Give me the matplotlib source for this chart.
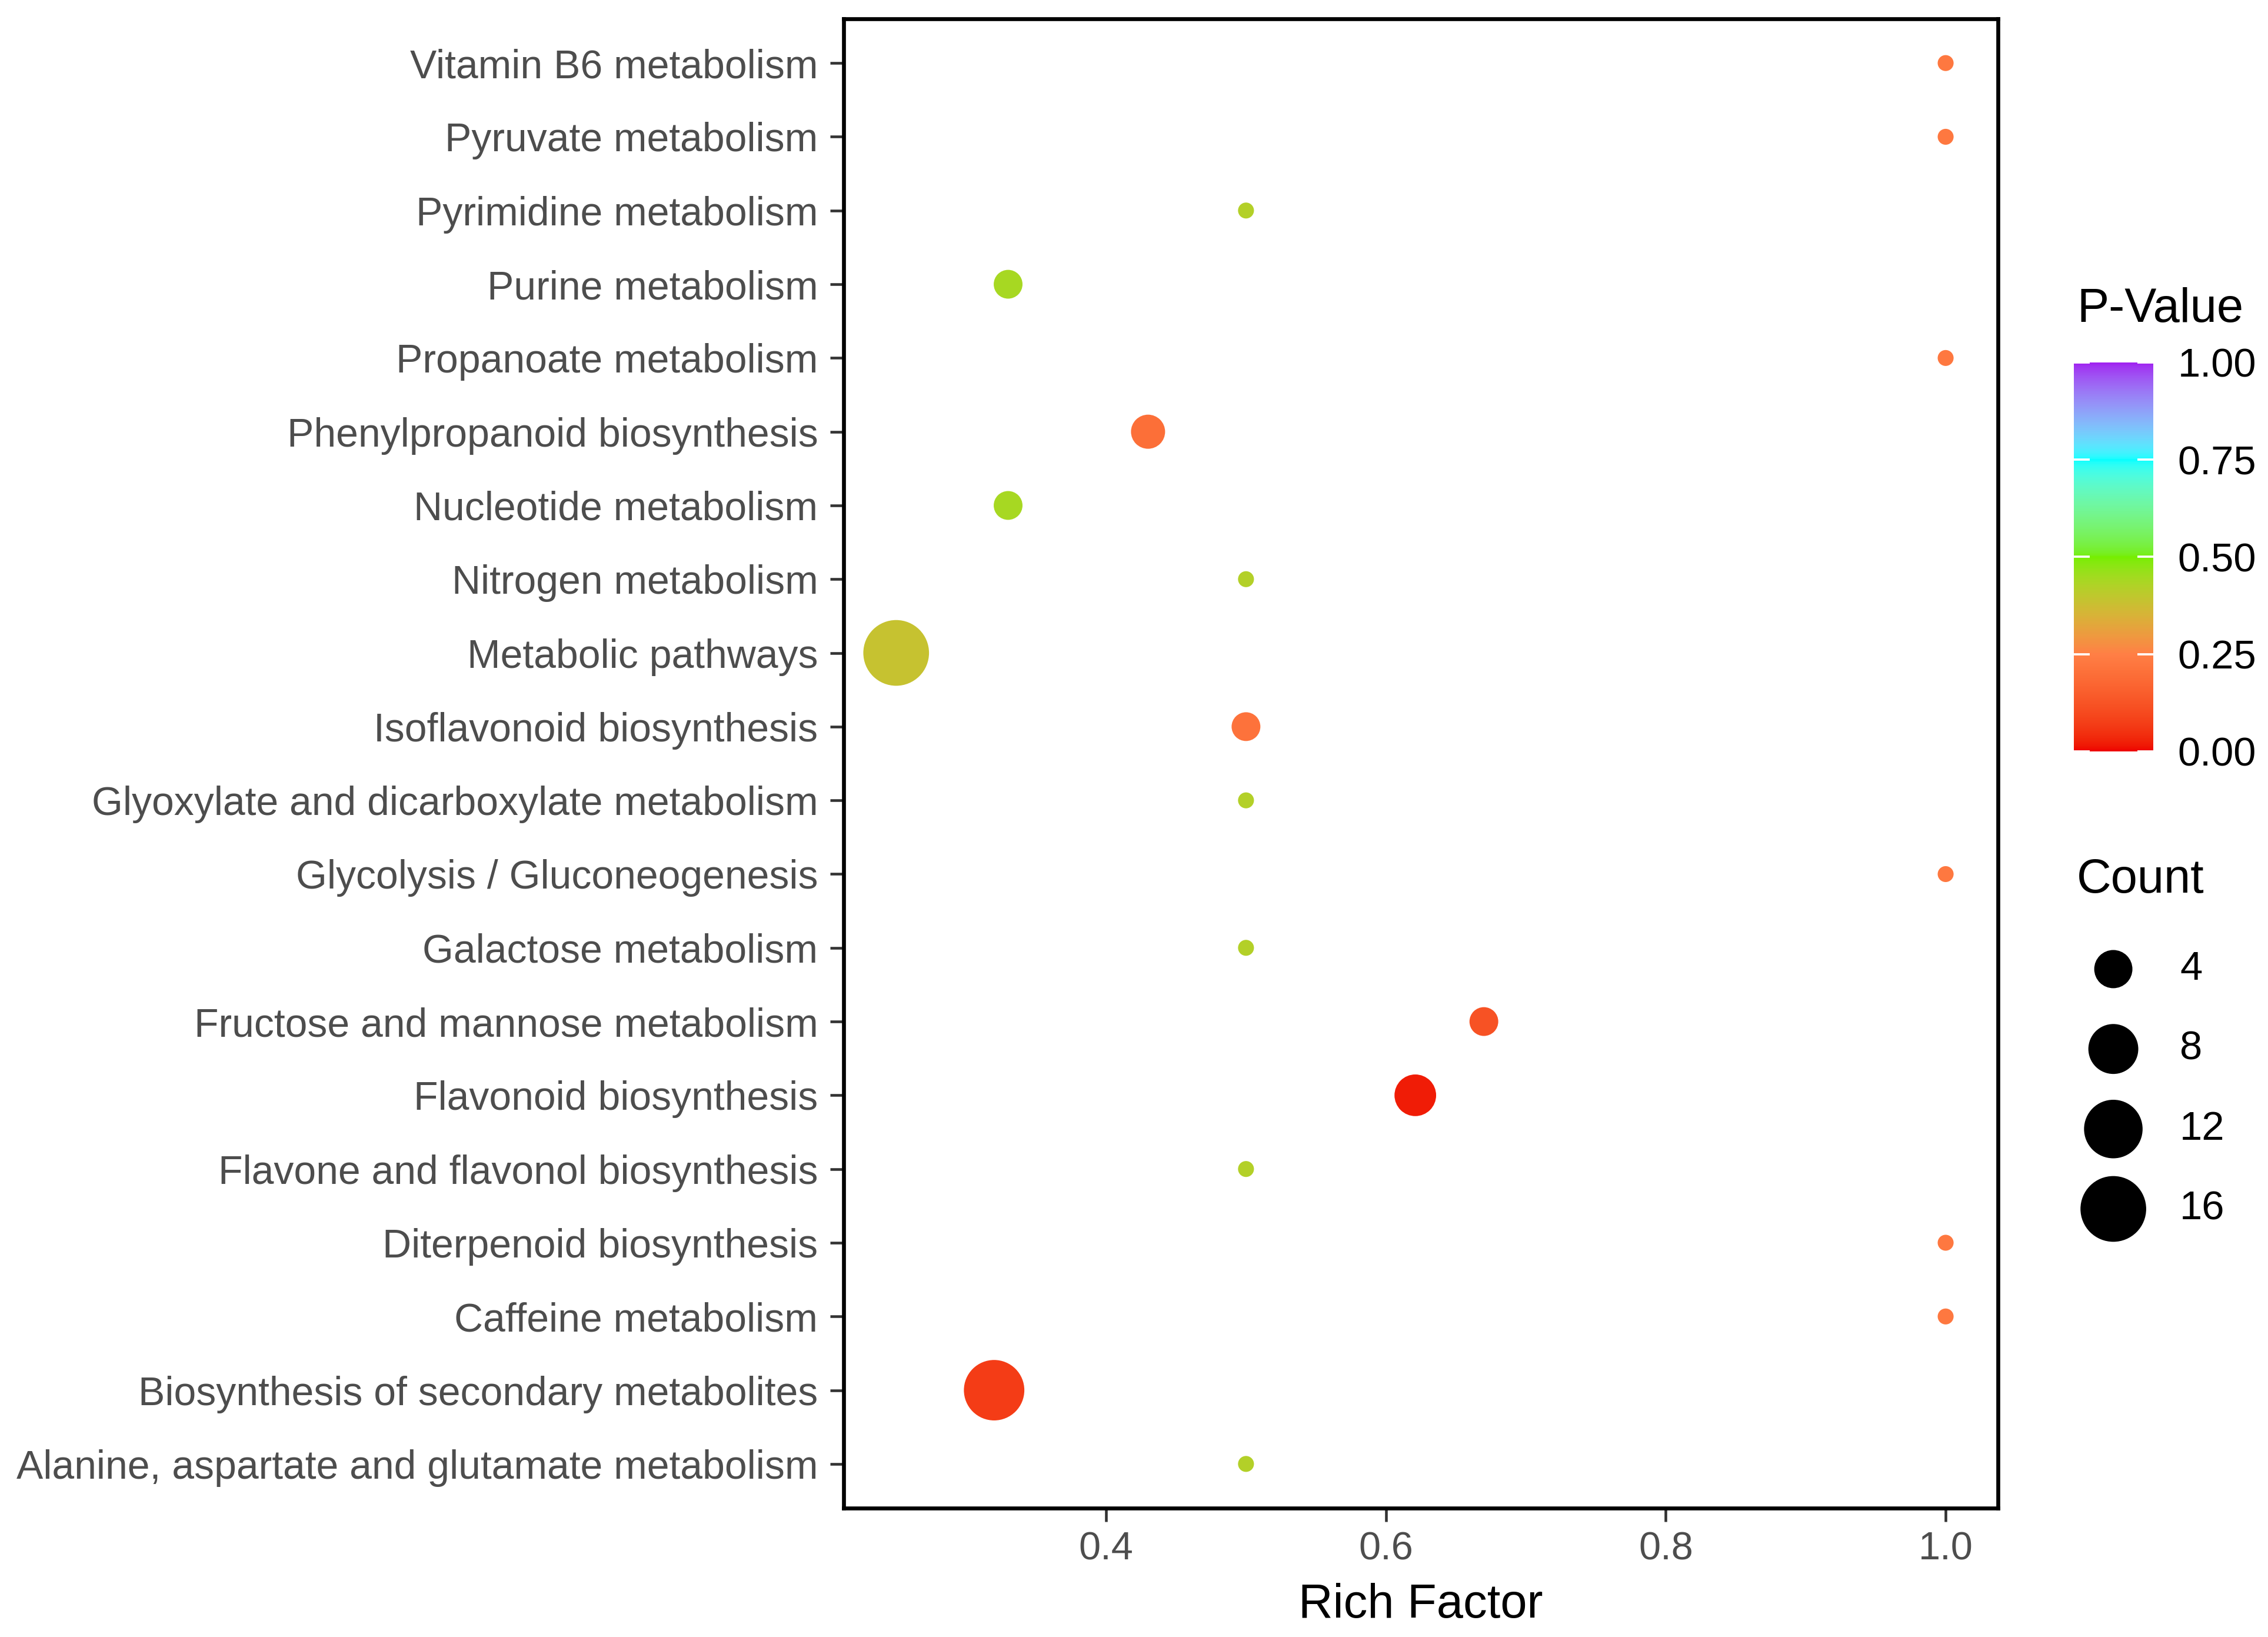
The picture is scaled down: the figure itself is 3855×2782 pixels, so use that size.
#!/usr/bin/env python3
"""
KEGG enrichment bubble plot: rich factor vs pathway, coloured by p-value,
sized by gene count.
"""

import numpy as np
import matplotlib

matplotlib.use('Agg')
import matplotlib.pyplot as plt
from matplotlib.colors import ListedColormap, Normalize, to_rgb

plt.rcParams['font.family'] = ['Liberation Sans', 'DejaVu Sans']

# bottom -> top, as drawn
PATHWAYS = [
    'Alanine, aspartate and glutamate metabolism',
    'Biosynthesis of secondary metabolites',
    'Caffeine metabolism',
    'Diterpenoid biosynthesis',
    'Flavone and flavonol biosynthesis',
    'Flavonoid biosynthesis',
    'Fructose and mannose metabolism',
    'Galactose metabolism',
    'Glycolysis / Gluconeogenesis',
    'Glyoxylate and dicarboxylate metabolism',
    'Isoflavonoid biosynthesis',
    'Metabolic pathways',
    'Nitrogen metabolism',
    'Nucleotide metabolism',
    'Phenylpropanoid biosynthesis',
    'Propanoate metabolism',
    'Purine metabolism',
    'Pyrimidine metabolism',
    'Pyruvate metabolism',
    'Vitamin B6 metabolism',
]
RICH = [0.5, 0.32, 1.0, 1.0, 0.5, 0.621, 0.67, 0.5, 1.0, 0.5,
        0.5, 0.25, 0.5, 0.33, 0.43, 1.0, 0.33, 0.5, 1.0, 1.0]
COUNT = [1, 13, 1, 1, 1, 5, 2, 1, 1, 1,
         2, 16, 1, 2, 3, 1, 2, 1, 1, 1]
PVAL = [0.42, 0.07, 0.23, 0.23, 0.42, 0.02, 0.12, 0.42, 0.23, 0.42,
        0.21, 0.385, 0.42, 0.44, 0.20, 0.23, 0.44, 0.42, 0.23, 0.23]

LEGEND_COUNTS = [4, 8, 12, 16]
CBAR_TICKS = [0.0, 0.25, 0.5, 0.75, 1.0]
GRAD_COLORS = ['#EE0000', '#FF7F45', '#76EE00', '#00FFFF', '#A020F0']

DPI = 300
D_MIN, D_MAX = 6.5, 26.8   # point diameters in pt (area-style size scale)


# --- colour ramp interpolated in CIELAB, like ggplot's gradientn ---
_WHITE = np.array([0.95047, 1.0, 1.08883])
_M = np.array([[0.4124564, 0.3575761, 0.1804375],
               [0.2126729, 0.7151522, 0.0721750],
               [0.0193339, 0.1191920, 0.9503041]])


def rgb2lab(rgb):
    c = np.asarray(rgb, float)
    lin = np.where(c <= 0.04045, c / 12.92, ((c + 0.055) / 1.055) ** 2.4)
    xyz = _M @ lin / _WHITE
    f = np.where(xyz > 0.008856, np.cbrt(xyz), 7.787 * xyz + 16 / 116)
    return np.array([116 * f[1] - 16, 500 * (f[0] - f[1]), 200 * (f[1] - f[2])])


def lab2rgb(lab):
    L, a, b = lab
    fy = (L + 16) / 116
    f = np.array([fy + a / 500, fy, fy - b / 200])
    xyz = np.where(f ** 3 > 0.008856, f ** 3, (f - 16 / 116) / 7.787) * _WHITE
    lin = np.linalg.solve(_M, xyz)
    lin = np.clip(lin, 0, 1)
    c = np.where(lin <= 0.0031308, 12.92 * lin, 1.055 * lin ** (1 / 2.4) - 0.055)
    return np.clip(c, 0, 1)


def lab_ramp(colors, n=512):
    labs = [rgb2lab(to_rgb(c)) for c in colors]
    stops = np.linspace(0, 1, len(colors))
    out = []
    for t in np.linspace(0, 1, n):
        i = min(np.searchsorted(stops, t, side='right') - 1, len(colors) - 2)
        u = (t - stops[i]) / (stops[i + 1] - stops[i])
        out.append(lab2rgb(labs[i] * (1 - u) + labs[i + 1] * u))
    return ListedColormap(out)


def size_of(counts):
    c = np.asarray(counts, float)
    lo, hi = min(COUNT), max(COUNT)
    d = D_MIN + (D_MAX - D_MIN) * np.sqrt((c - lo) / (hi - lo))
    return d ** 2


def main():
    cmap = lab_ramp(GRAD_COLORS)
    norm = Normalize(0, 1)

    fig = plt.figure(figsize=(3855 / DPI, 2782 / DPI), dpi=DPI)
    ax = fig.add_axes([0.3720, 0.0787, 0.5090, 0.9098])

    ax.scatter(RICH, PATHWAYS, s=size_of(COUNT), c=PVAL, cmap=cmap, norm=norm,
               linewidths=0, zorder=3)

    span = max(RICH) - min(RICH)
    ax.set_xlim(min(RICH) - 0.05 * span, max(RICH) + 0.05 * span)
    ax.set_ylim(-0.6, len(PATHWAYS) - 0.4)
    ax.set_xticks([0.4, 0.6, 0.8, 1.0])
    ax.set_xticklabels(['0.4', '0.6', '0.8', '1.0'])
    ax.set_xlabel('Rich Factor', fontsize=19.5, color='black', labelpad=6)
    for sp in ax.spines.values():
        sp.set_linewidth(1.6)
        sp.set_color('black')
    ax.tick_params(axis='both', length=5.5, width=1.1, color='#333333',
                   labelcolor='#4D4D4D')
    ax.tick_params(axis='x', pad=4, labelsize=16)
    ax.tick_params(axis='y', pad=5, labelsize=16.3)

    # colour bar
    cax = fig.add_axes([0.9144, 0.5410, 0.0350, 0.2376])
    sm = plt.cm.ScalarMappable(norm=norm, cmap=cmap)
    cb = fig.colorbar(sm, cax=cax, ticks=CBAR_TICKS)
    cb.outline.set_visible(False)
    cb.ax.set_yticklabels([f'{t:.2f}' for t in CBAR_TICKS])
    cax.tick_params(direction='in', length=6.4, width=0.9, color='white',
                    left=True, right=True, labelleft=False, labelright=True,
                    labelsize=16.5, labelcolor='black', pad=10)
    fig.text(0.9157, 0.8110, 'P-Value', fontsize=19.5, ha='left', va='center')

    # size legend
    lax = fig.add_axes([0, 0, 1, 1])
    lax.axis('off')
    lax.set_xlim(0, 1)
    lax.set_ylim(0, 1)
    fig.text(0.9157, 0.4622, 'Count', fontsize=19.5, ha='left', va='center')
    leg_y = [0.4080, 0.3592, 0.3103, 0.2615]
    lax.scatter([0.9318] * len(LEGEND_COUNTS), leg_y, s=size_of(LEGEND_COUNTS),
                color='black', linewidths=0)
    for y, n in zip(leg_y, LEGEND_COUNTS):
        lax.text(0.9611, y, str(n), fontsize=16.5, ha='left', va='center')

    fig.savefig('out.png', dpi=DPI)
    plt.close(fig)


if __name__ == '__main__':
    main()
